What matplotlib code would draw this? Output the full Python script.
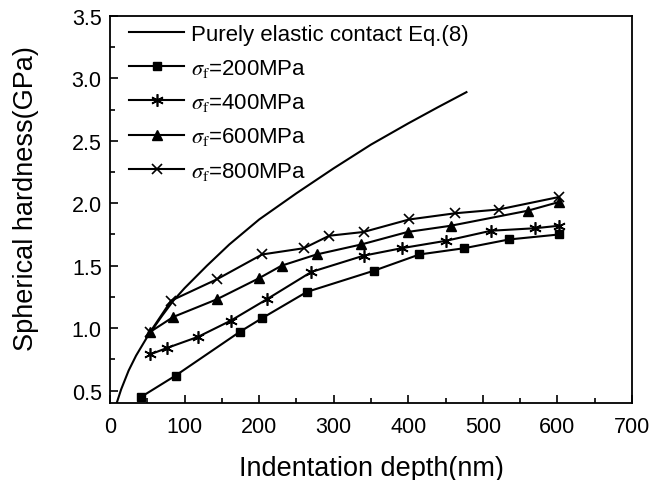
import numpy as np
import matplotlib.pyplot as plt
from matplotlib.ticker import MultipleLocator

plt.rcParams['font.family'] = ['Liberation Sans', 'DejaVu Sans']
plt.rcParams['mathtext.fontset'] = 'stix'

# curva elastica
elastic_h = [9, 15, 25, 35, 50, 70, 85, 100, 130, 160, 200, 250, 300, 350, 400, 440, 478]
elastic_H = [0.40, 0.51, 0.66, 0.78, 0.93, 1.10, 1.22, 1.32, 1.50, 1.67, 1.87, 2.08, 2.28,
             2.47, 2.64, 2.77, 2.89]

h_200 = [42, 88, 174, 204, 264, 354, 415, 475, 535, 602]
H_200 = [0.45, 0.62, 0.97, 1.08, 1.29, 1.46, 1.59, 1.64, 1.71, 1.75]

h_400 = [54, 76, 118, 162, 210, 270, 340, 391, 451, 511, 570, 602]
H_400 = [0.79, 0.84, 0.93, 1.06, 1.23, 1.45, 1.58, 1.64, 1.70, 1.78, 1.80, 1.82]

h_600 = [54, 85, 143, 200, 230, 277, 337, 399, 457, 560, 602]
H_600 = [0.97, 1.09, 1.23, 1.40, 1.50, 1.59, 1.67, 1.77, 1.82, 1.94, 2.01]

h_800 = [54, 82, 143, 204, 260, 294, 340, 401, 463, 521, 602]
H_800 = [0.97, 1.22, 1.39, 1.59, 1.64, 1.74, 1.77, 1.87, 1.92, 1.95, 2.05]

fig = plt.figure(figsize=(6.69, 4.81), dpi=100)
ax = fig.add_axes([0.1644, 0.160, 0.7803, 0.8047])

ax.plot(elastic_h, elastic_H, color='black', lw=1.5, label='Purely elastic contact Eq.(8)')
ax.plot(h_200, H_200, color='black', lw=1.5, marker='s', ms=6, label=r'$\sigma_\mathrm{f}$=200MPa')
ax.plot(h_400, H_400, color='black', lw=1.5, marker=(6, 2, 0), ms=9, mew=1.2,
        label=r'$\sigma_\mathrm{f}$=400MPa')
ax.plot(h_600, H_600, color='black', lw=1.5, marker='^', ms=7, label=r'$\sigma_\mathrm{f}$=600MPa')
ax.plot(h_800, H_800, color='black', lw=1.5, marker='x', ms=7, mew=1.2,
        label=r'$\sigma_\mathrm{f}$=800MPa')

ax.set_xlim(0, 700)
ax.set_ylim(0.4, 3.5)
ax.xaxis.set_major_locator(MultipleLocator(100))
ax.xaxis.set_minor_locator(MultipleLocator(50))
ax.yaxis.set_major_locator(MultipleLocator(0.5))
ax.yaxis.set_minor_locator(MultipleLocator(0.25))
ax.tick_params(which='both', direction='in', labelsize=15.5, width=1.2)
ax.tick_params(which='major', length=6)
ax.tick_params(which='minor', length=3.5)
ax.tick_params(axis='x', pad=9)
ax.tick_params(axis='y', pad=6)
for s in ax.spines.values():
    s.set_linewidth(1.3)

ax.set_xlabel('Indentation depth(nm)', fontsize=19.5, labelpad=13)
ax.set_ylabel('Spherical hardness(GPa)', fontsize=19.5)
ax.yaxis.set_label_coords(-0.136, 0.532)

ax.legend(loc='upper left', bbox_to_anchor=(0.036, 0.98), frameon=False, fontsize=16,
          handlelength=2.5, labelspacing=0.55, borderaxespad=0, borderpad=0,
          handletextpad=0.3)

fig.savefig('out.png', dpi=100)
